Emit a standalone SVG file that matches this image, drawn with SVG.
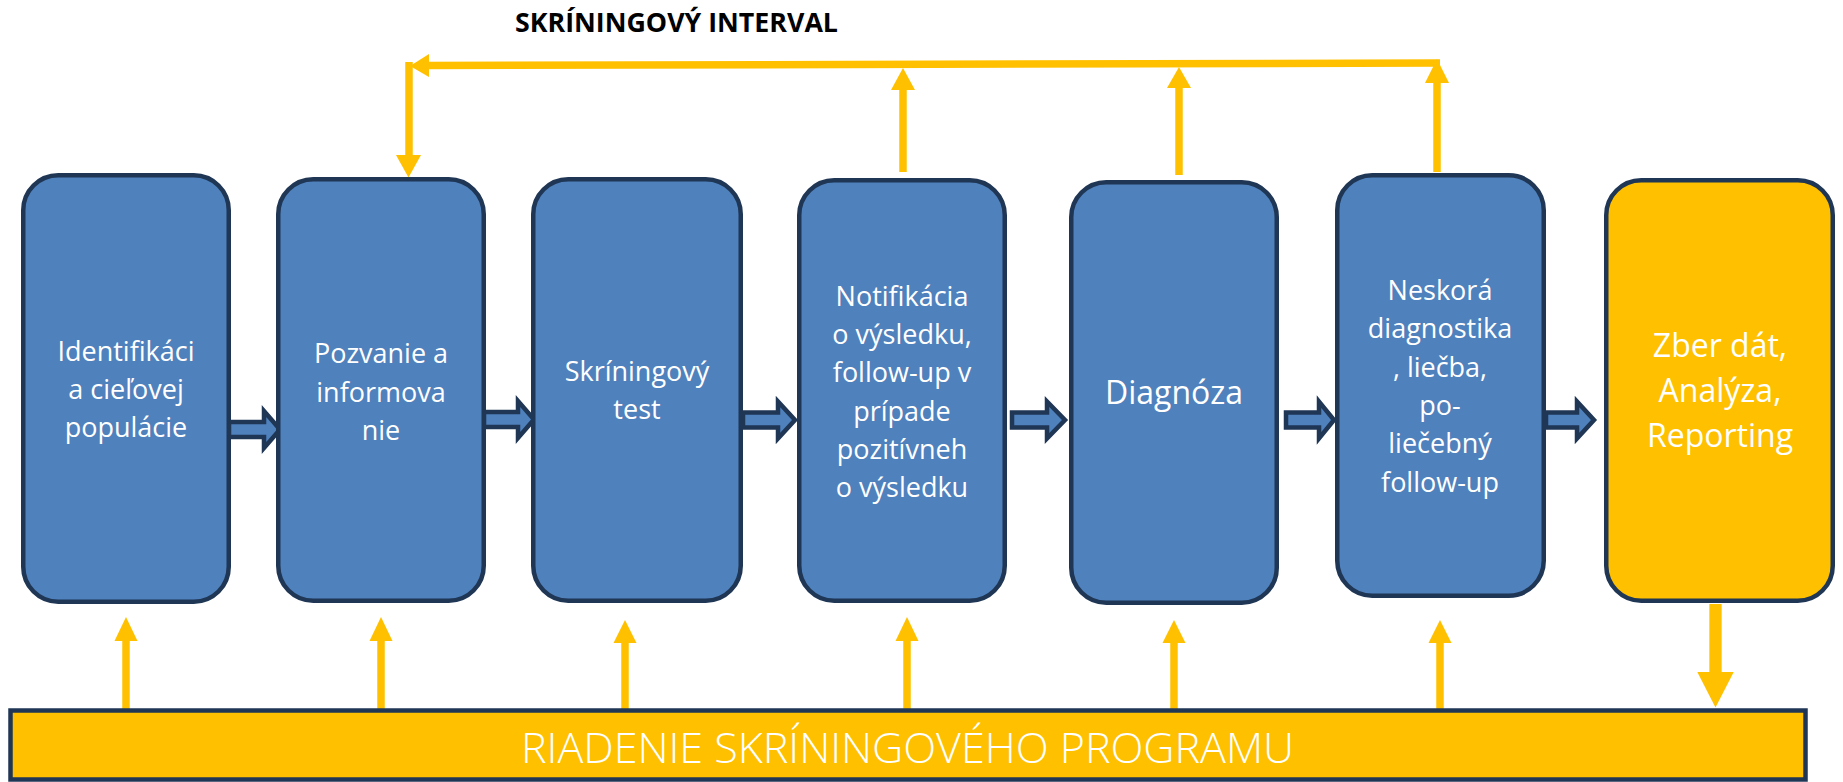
<svg xmlns="http://www.w3.org/2000/svg" width="1843" height="782" viewBox="0 0 1843 782">
<style>
.box{fill:#4F81BD;stroke:#1F3655;stroke-width:4.5}
.ybox{fill:#FFC000;stroke:#1F3655;stroke-width:4.5}
.t{font-family:"Open Sans","Liberation Sans",sans-serif;fill:#FFFFFF;text-anchor:middle;font-size:27px}
.tl{font-size:32px}
.title{font-family:"Open Sans","Liberation Sans",sans-serif;fill:#000000;font-weight:700;font-size:27px;text-anchor:middle}
.bar{font-family:"Open Sans","Liberation Sans",sans-serif;fill:#FFFFFF;font-weight:300;font-size:42px;text-anchor:middle}
.blk{fill:#4F81BD;stroke:#1F3655;stroke-width:4.5;stroke-linejoin:miter}
.yl{stroke:#FFC000;stroke-width:7.5;fill:none}
.yh{fill:#FFC000}
</style>

<text class="title" x="676.5" y="32" textLength="323" lengthAdjust="spacingAndGlyphs">SKRÍNINGOVÝ INTERVAL</text>

<g id="connectors">
  <!-- blue block arrows between boxes -->
  <polygon class="blk" points="229,422 264,422 264,411 280,429.5 264,448 264,437 229,437"/>
  <polygon class="blk" points="484,412 518,412 518,401 534,419.5 518,438 518,427 484,427"/>
  <polygon class="blk" points="743,412.5 778,412.5 778,401.5 795,420 778,438.5 778,427.5 743,427.5"/>
  <polygon class="blk" points="1012,412.5 1047,412.5 1047,401.5 1065,420 1047,438.5 1047,427.5 1012,427.5"/>
  <polygon class="blk" points="1286,412.5 1319,412.5 1319,401.5 1334,420 1319,438.5 1319,427.5 1286,427.5"/>
  <polygon class="blk" points="1546,412.5 1577,412.5 1577,401.5 1594,420 1577,438.5 1577,427.5 1546,427.5"/>

  <!-- screening interval loop -->
  <line class="yl" x1="427" y1="65.5" x2="1440" y2="63"/>
  <polygon class="yh" points="410,66 429,54 429,77"/>
  <line class="yl" x1="409" y1="62" x2="409" y2="156"/>
  <polygon class="yh" points="396,155 421,155 408.5,177.5"/>
  <line class="yl" x1="903" y1="172" x2="903" y2="88"/>
  <polygon class="yh" points="891,90 915,90 903,68"/>
  <line class="yl" x1="1179" y1="175" x2="1179" y2="86"/>
  <polygon class="yh" points="1167,88 1191,88 1179,67"/>
  <line class="yl" x1="1437" y1="172" x2="1437" y2="81"/>
  <polygon class="yh" points="1425,83 1449,83 1437,59"/>

  <!-- management arrows up -->
  <line class="yl" x1="126" y1="709" x2="126" y2="639"/>
  <polygon class="yh" points="114.5,641 137.5,641 126,617"/>
  <line class="yl" x1="381" y1="709" x2="381" y2="639"/>
  <polygon class="yh" points="369.5,641 392.5,641 381,617"/>
  <line class="yl" x1="625" y1="710" x2="625" y2="641"/>
  <polygon class="yh" points="613.5,643 636.5,643 625,620"/>
  <line class="yl" x1="907" y1="709" x2="907" y2="639"/>
  <polygon class="yh" points="895.5,641 918.5,641 907,617"/>
  <line class="yl" x1="1174" y1="710" x2="1174" y2="641"/>
  <polygon class="yh" points="1162.5,643 1185.5,643 1174,620"/>
  <line class="yl" x1="1440" y1="710" x2="1440" y2="641"/>
  <polygon class="yh" points="1428.5,643 1451.5,643 1440,620"/>

  <!-- data collection down to management -->
  <line stroke="#FFC000" stroke-width="12.3" x1="1715.5" y1="604" x2="1715.5" y2="674"/>
  <polygon class="yh" points="1697.3,672 1733.7,672 1715.5,707.5"/>
</g>

<g id="node1">
  <rect class="box" x="23.25" y="175.25" width="205.5" height="426.5" rx="35"/>
  <text class="t" x="126" y="361">Identifikáci</text>
  <text class="t" x="126" y="399">a cieľovej</text>
  <text class="t" x="126" y="437">populácie</text>
</g>
<g id="node2">
  <rect class="box" x="278.25" y="179.25" width="205.5" height="421.5" rx="35"/>
  <text class="t" x="381" y="363">Pozvanie a</text>
  <text class="t" x="381" y="401.5">informova</text>
  <text class="t" x="381" y="440">nie</text>
</g>
<g id="node3">
  <rect class="box" x="533.25" y="179.25" width="207.5" height="421.5" rx="35"/>
  <text class="t" x="637" y="381">Skríningový</text>
  <text class="t" x="637" y="419">test</text>
</g>
<g id="node4">
  <rect class="box" x="799.25" y="180.25" width="205.5" height="420.5" rx="35"/>
  <text class="t" x="902" y="305.7">Notifikácia</text>
  <text class="t" x="902" y="344">o výsledku,</text>
  <text class="t" x="902" y="382.3">follow-up v</text>
  <text class="t" x="902" y="420.6">prípade</text>
  <text class="t" x="902" y="458.9">pozitívneh</text>
  <text class="t" x="902" y="497.2">o výsledku</text>
</g>
<g id="node5">
  <rect class="box" x="1071.25" y="182.25" width="205.5" height="420.5" rx="35"/>
  <text class="t tl" x="1174" y="404">Diagnóza</text>
</g>
<g id="node6">
  <rect class="box" x="1337.25" y="175.25" width="206.5" height="420.5" rx="35"/>
  <text class="t" x="1440" y="300">Neskorá</text>
  <text class="t" x="1440" y="338.3">diagnostika</text>
  <text class="t" x="1440" y="376.7">, liečba,</text>
  <text class="t" x="1440" y="415">po-</text>
  <text class="t" x="1440" y="453.3">liečebný</text>
  <text class="t" x="1440" y="491.7">follow-up</text>
</g>
<g id="node7">
  <rect class="ybox" x="1606.25" y="180.25" width="226.5" height="420.5" rx="35"/>
  <text class="t tl" x="1720" y="356.7">Zber dát,</text>
  <text class="t tl" x="1720" y="401.7">Analýza,</text>
  <text class="t tl" x="1720" y="447.3">Reporting</text>
</g>
<g id="management">
  <rect class="ybox" x="10.5" y="710.5" width="1795" height="69"/>
  <text class="bar" x="907.5" y="763" textLength="773" lengthAdjust="spacingAndGlyphs">RIADENIE SKRÍNINGOVÉHO PROGRAMU</text>
</g>
</svg>
